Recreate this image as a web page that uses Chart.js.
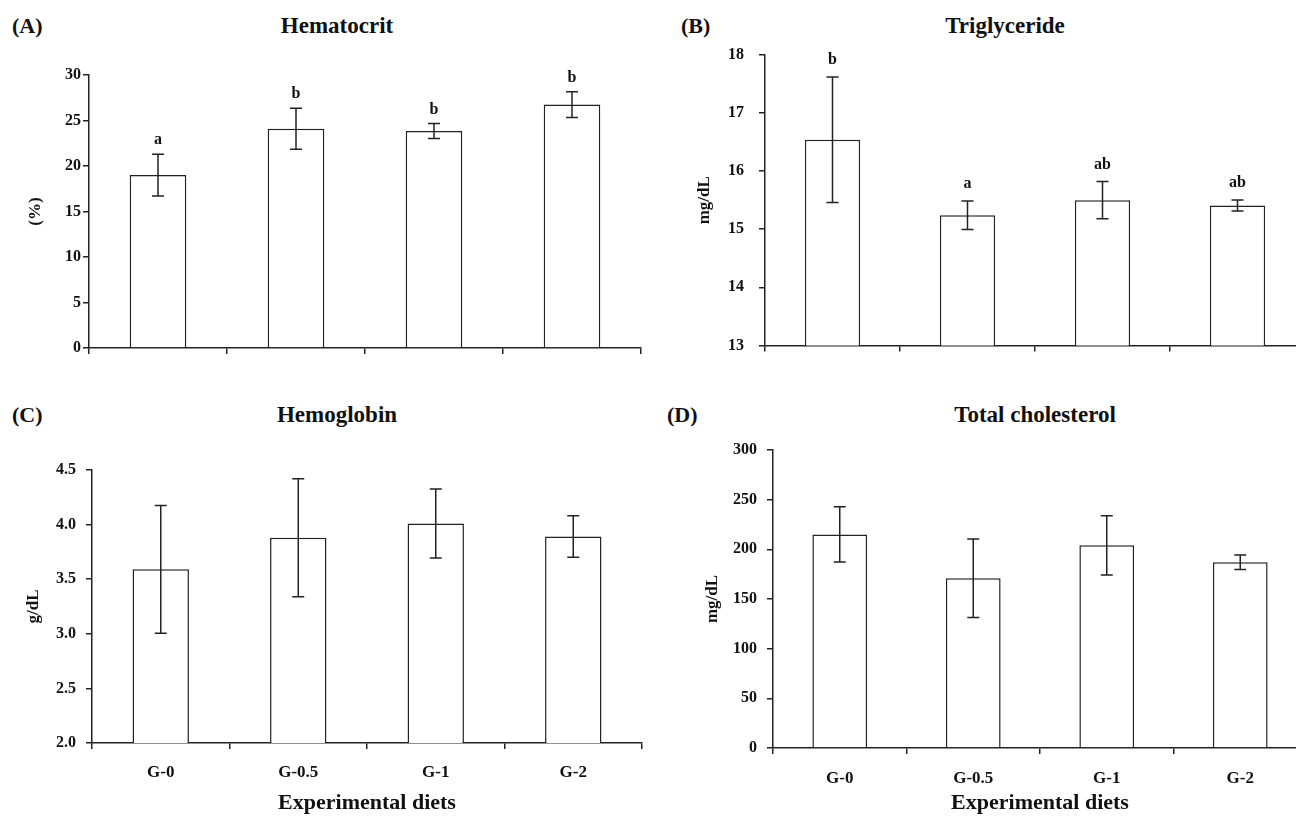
<!DOCTYPE html>
<html>
<head>
<meta charset="utf-8">
<script src="https://cdn.jsdelivr.net/npm/chart.js@4.4.1/dist/chart.umd.min.js"></script>
<style>
  html, body { margin: 0; padding: 0; background: #fff; width: 1296px; height: 817px; overflow: hidden; position: relative; }
  canvas { position: absolute; }
  .tag { position: absolute; font: bold 22px "Liberation Serif", "Times New Roman", serif; color: #111; transform: translateY(-50%); white-space: nowrap; }
  .ttl { position: absolute; font: bold 23px "Liberation Serif", "Times New Roman", serif; color: #111; transform: translate(-50%, -50%); white-space: nowrap; }
</style>
</head>
<body>
<div class="tag" style="left:12px; top:26px">(A)</div>
<div class="ttl" style="left:337px; top:26px">Hematocrit</div>
<div class="tag" style="left:681px; top:26px">(B)</div>
<div class="ttl" style="left:1005px; top:26px">Triglyceride</div>
<div class="tag" style="left:12px; top:415px">(C)</div>
<div class="ttl" style="left:337px; top:415px">Hemoglobin</div>
<div class="tag" style="left:667px; top:415px">(D)</div>
<div class="ttl" style="left:1035px; top:415px">Total cholesterol</div>

<canvas id="chartA" width="650" height="320" style="left:0px; top:50px"></canvas>
<canvas id="chartB" width="660" height="340" style="left:650px; top:30px"></canvas>
<canvas id="chartC" width="650" height="377" style="left:0px; top:440px"></canvas>
<canvas id="chartD" width="660" height="397" style="left:650px; top:420px"></canvas>

<script>
const diets = ['G-0', 'G-0.5', 'G-1', 'G-2']

const hematocritMean = [19.0, 24.1, 23.85, 26.75]
const hematocritErr = [2.3, 2.25, 0.83, 1.42]
const hematocritLetters = ['a', 'b', 'b', 'b']

const triglycerideMean = [16.54, 15.24, 15.5, 15.41]
const triglycerideErr = [1.08, 0.245, 0.32, 0.095]
const triglycerideLetters = ['b', 'a', 'ab', 'ab']

const hemoglobinMean = [3.59, 3.88, 4.01, 3.89]
const hemoglobinErr = [0.585, 0.54, 0.315, 0.19]

const cholesterolMean = [215, 171, 204, 187]
const cholesterolErr = [27.8, 39.5, 29.8, 7.2]

const serif = '"Liberation Serif", "Times New Roman", serif'
const ink = '#222'

// error bars + significance letters, drawn from the y scale
function errorBars(errs, letters, gap) {
  return {
    id: 'errorBars',
    afterDatasetsDraw(chart) {
      const ctx = chart.ctx
      const y = chart.scales.y
      const means = chart.data.datasets[0].data
      const meta = chart.getDatasetMeta(0)
      ctx.save()
      ctx.strokeStyle = ink
      ctx.lineWidth = 1.5
      ctx.fillStyle = '#111'
      ctx.font = 'bold 16px ' + serif
      ctx.textAlign = 'center'
      ctx.textBaseline = 'middle'
      meta.data.forEach((bar, i) => {
        const hi = y.getPixelForValue(means[i] + errs[i])
        const lo = y.getPixelForValue(means[i] - errs[i])
        ctx.beginPath()
        ctx.moveTo(bar.x, hi)
        ctx.lineTo(bar.x, lo)
        ctx.moveTo(bar.x - 6, hi)
        ctx.lineTo(bar.x + 6, hi)
        ctx.moveTo(bar.x - 6, lo)
        ctx.lineTo(bar.x + 6, lo)
        ctx.stroke()
        if (letters) ctx.fillText(letters[i], bar.x, hi - gap)
      })
      ctx.restore()
    }
  }
}

function makeChart(id, p) {
  const ctx = document.getElementById(id).getContext('2d')
  return new Chart(ctx, {
    type: 'bar',
    data: {
      labels: diets,
      datasets: [{
        data: p.means,
        backgroundColor: '#fff',
        borderColor: ink,
        borderWidth: 1.5,
        barPercentage: 0.41,
        categoryPercentage: 1
      }]
    },
    options: {
      responsive: false,
      animation: false,
      layout: { padding: { top: p.padTop, right: p.padRight, left: 0, bottom: 0 } },
      plugins: { legend: { display: false }, tooltip: { enabled: false } },
      scales: {
        x: {
          grid: { drawOnChartArea: false, drawTicks: true, tickLength: 6, color: ink, lineWidth: 1.5 },
          border: { display: true, color: ink, width: 1.5 },
          ticks: {
            display: p.showX,
            color: '#111',
            font: { family: serif, size: 17, weight: 'bold' },
            padding: p.xTickPad,
            maxRotation: 0
          },
          title: {
            display: p.showX,
            text: 'Experimental diets',
            color: '#111',
            font: { family: serif, size: 22, weight: 'bold' },
            padding: { top: 0, bottom: p.xTitlePad }
          },
          afterFit: (scale) => { scale.height = p.xHeight }
        },
        y: {
          min: p.min,
          max: p.max,
          beginAtZero: false,
          grid: { drawOnChartArea: false, drawTicks: true, tickLength: 6, color: ink, lineWidth: 1.5 },
          border: { display: true, color: ink, width: 1.5 },
          ticks: {
            stepSize: p.step,
            color: '#111',
            font: { family: serif, size: 16, weight: 'bold' },
            padding: p.yTickPad,
            callback: (v) => Number(v).toFixed(p.decimals)
          },
          title: {
            display: true,
            text: p.yTitle,
            color: '#111',
            font: { family: serif, size: 17, weight: 'bold' },
            padding: { top: p.yTitlePad, bottom: 0 }
          },
          afterFit: (scale) => { scale.width = p.yWidth }
        }
      }
    },
    plugins: [errorBars(p.errs, p.letters, p.gap)]
  })
}

makeChart('chartA', {
  means: hematocritMean, errs: hematocritErr, letters: hematocritLetters, gap: 14,
  min: 0, max: 30, step: 5, decimals: 0, yTitle: '(%)',
  padTop: 25, padRight: 9, yWidth: 89, xHeight: 22, showX: false,
  yTickPad: 2, yTitlePad: 25, xTickPad: 13, xTitlePad: 0
})

makeChart('chartB', {
  means: triglycerideMean, errs: triglycerideErr, letters: triglycerideLetters, gap: 17,
  min: 13, max: 18, step: 1, decimals: 0, yTitle: 'mg/dL',
  padTop: 25, padRight: 5, yWidth: 115, xHeight: 15, showX: false,
  yTickPad: 15, yTitlePad: 44, xTickPad: 13, xTitlePad: 0
})

makeChart('chartC', {
  means: hemoglobinMean, errs: hemoglobinErr, letters: null, gap: 14,
  min: 2, max: 4.5, step: 0.5, decimals: 1, yTitle: 'g/dL',
  padTop: 30, padRight: 8, yWidth: 92, xHeight: 74, showX: true,
  yTickPad: 10, yTitlePad: 23, xTickPad: 13, xTitlePad: 0
})

makeChart('chartD', {
  means: cholesterolMean, errs: cholesterolErr, letters: null, gap: 14,
  min: 0, max: 300, step: 50, decimals: 0, yTitle: 'mg/dL',
  padTop: 30, padRight: 3, yWidth: 123, xHeight: 69, showX: true,
  yTickPad: 10, yTitlePad: 52, xTickPad: 14, xTitlePad: 0
})
</script>
</body>
</html>
